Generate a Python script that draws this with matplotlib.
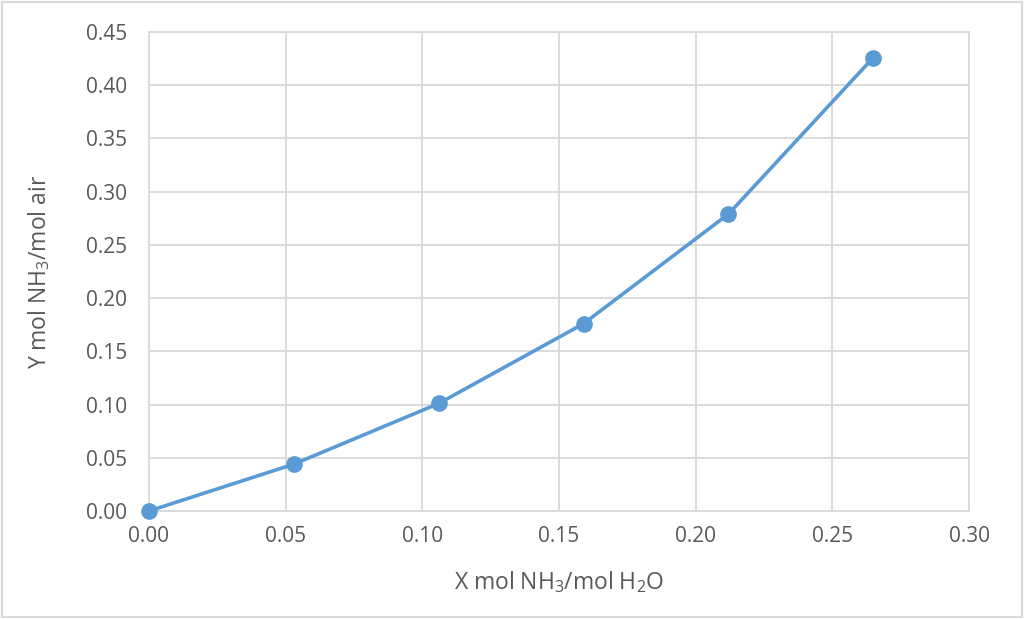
import matplotlib

matplotlib.use("Agg")
import matplotlib.pyplot as plt
from matplotlib.patches import Rectangle

plt.rcParams["font.family"] = ["Open Sans", "DejaVu Sans"]
plt.rcParams["mathtext.fontset"] = "custom"
plt.rcParams["mathtext.rm"] = "Open Sans"
plt.rcParams["mathtext.it"] = "Open Sans"

x_values = [0.0, 0.053, 0.106, 0.159, 0.212, 0.265]
y_values = [0.0, 0.044, 0.101, 0.176, 0.279, 0.426]
x_ticks = [0.00, 0.05, 0.10, 0.15, 0.20, 0.25, 0.30]
y_ticks = [0.00, 0.05, 0.10, 0.15, 0.20, 0.25, 0.30, 0.35, 0.40, 0.45]

text_color = "#595959"
grid_color = "#d9d9d9"
line_color = "#5b9bd5"

figure = plt.figure(figsize=(10.24, 6.19), dpi=100)
axis = figure.add_axes([0.1455, 0.1745, 0.8008, 0.7738])

axis.plot(
    x_values,
    y_values,
    color=line_color,
    linewidth=2.6,
    marker="o",
    markersize=11,
    zorder=3,
    clip_on=False,
)

axis.set_xlim(0, 0.30)
axis.set_ylim(0, 0.45)
axis.set_xticks(x_ticks)
axis.set_yticks(y_ticks)
axis.set_xticklabels([f"{v:.2f}" for v in x_ticks])
axis.set_yticklabels([f"{v:.2f}" for v in y_ticks])
axis.tick_params(length=0, labelsize=15, colors=text_color)
axis.tick_params(axis="x", pad=11)
axis.tick_params(axis="y", pad=16)
axis.grid(color=grid_color, linewidth=1.3)
axis.set_axisbelow(True)
for spine in axis.spines.values():
    spine.set_color(grid_color)
    spine.set_linewidth(1.3)

axis.set_xlabel(
    "X mol NH$_3$/mol H$_2$O", fontsize=16.5, color=text_color, labelpad=16
)
axis.set_ylabel(
    "Y mol NH$_3$/mol air", fontsize=16.5, color=text_color, labelpad=24
)

figure.patches.append(
    Rectangle(
        (0.002, 0.003),
        0.996,
        0.994,
        transform=figure.transFigure,
        fill=False,
        edgecolor=grid_color,
        linewidth=1.5,
    )
)

figure.savefig("out.png", dpi=100)
